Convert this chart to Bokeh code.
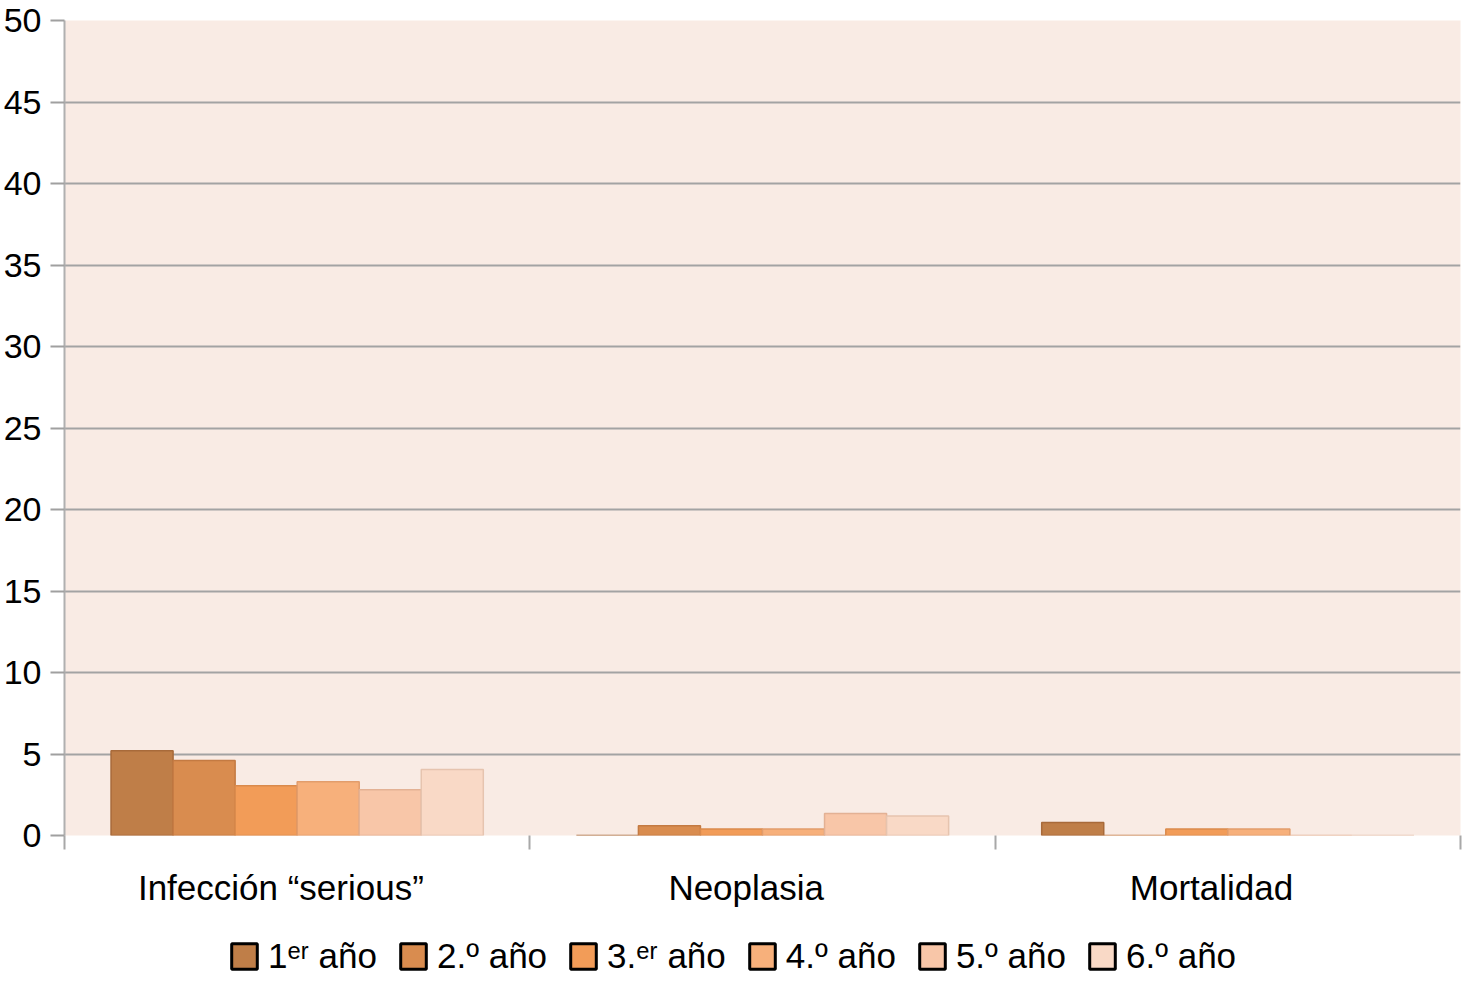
from bokeh.plotting import figure
from bokeh.layouts import column
from bokeh.models import (Range1d, ColumnDataSource, SingleIntervalTicker,
                          FixedTicker, Legend, LegendItem)
from bokeh.transform import dodge
from bokeh.embed import file_html
from bokeh.resources import INLINE

categories = ["Infección “serious”", "Neoplasia", "Mortalidad"]
years = ["1ᵉʳ año", "2.º año", "3.ᵉʳ año", "4.º año", "5.º año", "6.º año"]
year1 = [5.2, 0.0, 0.8]
year2 = [4.6, 0.6, 0.0]
year3 = [3.05, 0.4, 0.4]
year4 = [3.3, 0.4, 0.4]
year5 = [2.8, 1.35, 0.0]
year6 = [4.05, 1.2, 0.0]
y_ticks_interval = 5

fills = ["#BF7E48", "#D98C4F", "#F29C58", "#F7B07B", "#F8C6A8", "#F9D9C6"]
lines = ["#A86A3A", "#C47A42", "#DA8A4C", "#E29D6C", "#E3B194", "#E6C4AF"]
cols = ["y1", "y2", "y3", "y4", "y5", "y6"]

ncat = len(categories)
centers = [i + 0.5 for i in range(ncat)]
src = ColumnDataSource(dict(pos=centers, y1=year1, y2=year2, y3=year3,
                            y4=year4, y5=year5, y6=year6))

FONT = "Liberation Sans"
p = figure(x_range=Range1d(0, ncat), y_range=Range1d(0, 50),
           width=1462, height=920, output_backend="svg", toolbar_location=None,
           min_border_left=62, min_border_right=2, min_border_top=20,
           min_border_bottom=85,
           background_fill_color="#F9EBE4", border_fill_color="white")
p.outline_line_color = None

n = len(years)
w = 0.8 / n
for i, col in enumerate(cols):
    off = -0.4 + w / 2 + i * w
    p.vbar(x=dodge("pos", off), top=col, width=w, source=src,
           fill_color=fills[i], line_color=lines[i], line_width=1.5)

# y axis
p.yaxis.ticker = SingleIntervalTicker(interval=y_ticks_interval)
p.yaxis.axis_line_color = "#B0B0B0"
p.yaxis.axis_line_width = 2
p.yaxis.major_tick_out = 14
p.yaxis.major_tick_in = 0
p.yaxis.major_tick_line_color = "#A0A0A0"
p.yaxis.major_tick_line_width = 2
p.yaxis.minor_tick_line_color = None
p.yaxis.major_label_text_font = FONT
p.yaxis.major_label_text_font_size = "34px"
p.yaxis.major_label_text_color = "black"
p.yaxis.major_label_standoff = 9

p.ygrid.grid_line_color = "#A3A3A3"
p.ygrid.grid_line_width = 2
p.xgrid.grid_line_color = None

# x axis: labels near category centres, ticks at category boundaries
label_shift = -0.035
label_pos = [c + label_shift for c in centers]
xax = p.xaxis[0]
xax.ticker = FixedTicker(ticks=label_pos, minor_ticks=list(range(ncat + 1)))
xax.major_label_overrides = {c: lab for c, lab in zip(label_pos, categories)}
xax.axis_line_color = None
xax.major_tick_line_color = None
xax.major_tick_out = 14
xax.major_tick_in = 0
xax.minor_tick_line_color = "#A8A8A8"
xax.minor_tick_line_width = 2
xax.minor_tick_out = 14
xax.minor_tick_in = 0
xax.major_label_text_font = FONT
xax.major_label_text_font_size = "35px"
xax.major_label_text_color = "black"
xax.major_label_standoff = 18

# legend in its own strip below the chart (black-outlined swatches)
lg = figure(width=1462, height=66, output_backend="svg", toolbar_location=None,
            min_border=0, x_range=Range1d(0, 1), y_range=Range1d(0, 1),
            background_fill_color="white", border_fill_color="white")
lg.outline_line_color = None
lg.axis.visible = False
lg.grid.visible = False
items = []
for i, lab in enumerate(years):
    r = lg.vbar(x="pos", top=cols[i], width=0.1, source=src, fill_color=fills[i],
                line_color="black", line_width=3, visible=False)
    items.append(LegendItem(label=lab, renderers=[r]))
legend = Legend(items=items, orientation="horizontal", location=(164, 10),
                glyph_width=32, glyph_height=32, label_height=32,
                label_text_font=FONT, label_text_font_size="35px",
                label_text_color="black", label_standoff=8, spacing=20,
                border_line_color=None, background_fill_alpha=0,
                inactive_fill_alpha=0, margin=0, padding=0)
lg.add_layout(legend, "center")

layout = column(p, lg, spacing=0)
open("out.html", "w").write(file_html(layout, INLINE))
